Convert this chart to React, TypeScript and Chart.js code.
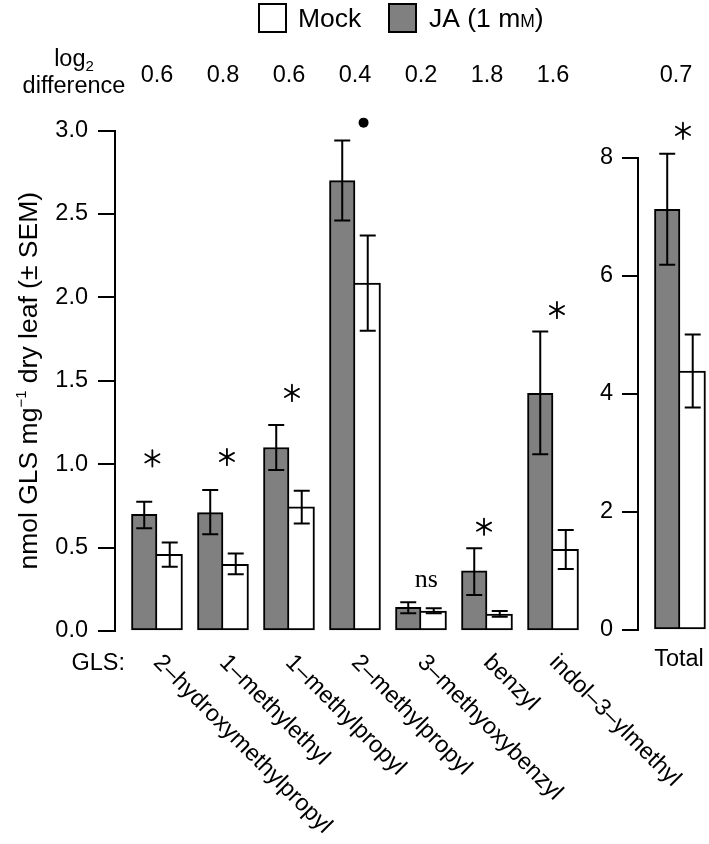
import React, { useEffect, useRef } from "react";
import { Chart, registerables } from "chart.js";

Chart.register(...registerables);

// ---------- data ----------
const categories = [
  "2–hydroxymethylpropyl",
  "1–methylethyl",
  "1–methylpropyl",
  "2–methylpropyl",
  "3–methyoxybenzyl",
  "benzyl",
  "indol–3–ylmethyl",
];
const jaMeans = [0.7, 0.71, 1.1, 2.7, 0.142, 0.36, 1.425];
const jaErrLow = [0.616, 0.58, 0.965, 2.46, 0.106, 0.216, 1.06];
const jaErrHigh = [0.775, 0.845, 1.235, 2.94, 0.172, 0.496, 1.795];
const mockMeans = [0.46, 0.4, 0.745, 2.085, 0.12, 0.102, 0.49];
const mockErrLow = [0.385, 0.34, 0.645, 1.8, 0.106, 0.086, 0.372];
const mockErrHigh = [0.53, 0.465, 0.84, 2.37, 0.136, 0.12, 0.605];
const log2Diff = ["0.6", "0.8", "0.6", "0.4", "0.2", "1.8", "1.6"];
const sigMarks = ["*", "*", "*", "•", "ns", "*", "*"];
const sigHeights = [1.035, 1.043, 1.427, 3.047, 0.3, 0.625, 1.924];
const sigShift = [-0.07, 0.06, 0.045, 0.13, 0.08, -0.045, 0.06]; // in category units
const mainTickStep = 0.5;
const mainMax = 3.0;

const totalCategory = ["Total"];
const totalJa = [7.13];
const totalJaLow = [6.19];
const totalJaHigh = [8.07];
const totalMock = [4.39];
const totalMockLow = [3.77];
const totalMockHigh = [5.01];
const totalLog2 = ["0.7"];
const totalSig = ["*"];
const totalSigHeight = [8.46];
const totalTickStep = 2;
const totalMax = 8;

const seriesNames = ["JA (1 mM)", "Mock"];

// ---------- styles ----------
const FONT = "'Liberation Sans', Arial, Helvetica, sans-serif";
const SERIF = "'Liberation Serif', 'Times New Roman', serif";
const FS = 23.5;
const FS_BIG = 26.5;
const JA_COLOR = "#808080";
const MOCK_COLOR = "#ffffff";
const BAR_T = 25.5;
const ROT = (45 * Math.PI) / 180;

function drawErrorBars(chart: any, lows: number[][], highs: number[][]) {
  const ctx = chart.ctx;
  const y = chart.scales.y;
  ctx.save();
  ctx.strokeStyle = "#000";
  ctx.lineWidth = 2;
  chart.data.datasets.forEach((_ds: any, di: number) => {
    const meta = chart.getDatasetMeta(di);
    meta.data.forEach((bar: any, i: number) => {
      const x = bar.x;
      const lo = y.getPixelForValue(lows[di][i]);
      const hi = y.getPixelForValue(highs[di][i]);
      ctx.beginPath();
      ctx.moveTo(x, lo);
      ctx.lineTo(x, hi);
      ctx.moveTo(x - 8, lo);
      ctx.lineTo(x + 8, lo);
      ctx.moveTo(x - 8, hi);
      ctx.lineTo(x + 8, hi);
      ctx.stroke();
    });
  });
  ctx.restore();
}

function drawCentered(ctx: any, text: string, font: string, cx: number, cy: number) {
  ctx.font = font;
  ctx.textAlign = "left";
  ctx.textBaseline = "alphabetic";
  const m = ctx.measureText(text);
  const x = cx - (m.actualBoundingBoxRight - m.actualBoundingBoxLeft) / 2;
  const yb = cy + (m.actualBoundingBoxAscent - m.actualBoundingBoxDescent) / 2;
  ctx.fillText(text, x, yb);
}

function drawAsterisk(ctx: any, cx: number, cy: number) {
  const r = 8.2;
  ctx.save();
  ctx.strokeStyle = "#000";
  ctx.lineWidth = 1.8;
  ctx.lineCap = "round";
  ctx.beginPath();
  for (let k = 0; k < 3; k++) {
    const a = (k * Math.PI) / 3;
    ctx.moveTo(cx - r * Math.sin(a), cy - r * Math.cos(a));
    ctx.lineTo(cx + r * Math.sin(a), cy + r * Math.cos(a));
  }
  ctx.stroke();
  ctx.restore();
}

function drawSig(ctx: any, mark: string, cx: number, cy: number) {
  ctx.fillStyle = "#000";
  if (mark === "*") drawAsterisk(ctx, cx, cy);
  else if (mark === "•") {
    ctx.beginPath();
    ctx.arc(cx, cy, 5, 0, Math.PI * 2);
    ctx.fill();
  } else drawCentered(ctx, mark, `26px ${SERIF}`, cx, cy);
}

function yAxisOptions(max: number, step: number, width: number, tickLen: number, pad: number, fmt: (v: number) => string) {
  return {
    type: "linear",
    min: 0,
    max,
    afterFit: (s: any) => {
      s.width = width;
    },
    ticks: {
      stepSize: step,
      padding: pad,
      color: "#000",
      font: { family: FONT, size: FS },
      callback: (v: any) => fmt(Number(v)),
    },
    grid: {
      display: true,
      drawOnChartArea: false,
      drawTicks: true,
      tickLength: tickLen,
      color: "#000",
      lineWidth: 2,
    },
    border: { display: true, color: "#000", width: 2 },
    title: { display: false },
  };
}

function xAxisOptions(min: number, max: number) {
  return {
    type: "linear",
    display: false,
    offset: false,
    bounds: "data",
    min,
    max,
    grid: { offset: false },
    ticks: { stepSize: 1, includeBounds: false },
  };
}

export default function App() {
  const mainRef = useRef<HTMLCanvasElement | null>(null);
  const totalRef = useRef<HTMLCanvasElement | null>(null);

  useEffect(() => {
    if (!mainRef.current || !totalRef.current) return;

    const mainPlugin = {
      id: "mainDecor",
      afterDraw(chart: any) {
        drawErrorBars(chart, [jaErrLow, mockErrLow], [jaErrHigh, mockErrHigh]);
        const ctx = chart.ctx;
        const xs = chart.scales.x;
        const ys = chart.scales.y;
        ctx.save();
        ctx.fillStyle = "#000";

        // legend (Mock first, then JA)
        const legendItems = [
          { box: 258, text: 298, color: MOCK_COLOR, name: seriesNames[1] },
          { box: 388, text: 429, color: JA_COLOR, name: seriesNames[0] },
        ];
        legendItems.forEach((it) => {
          ctx.fillStyle = it.color;
          ctx.fillRect(it.box + 1, 4, 27, 28);
          ctx.strokeStyle = "#000";
          ctx.lineWidth = 2;
          ctx.strokeRect(it.box + 1, 4, 27, 28);
          ctx.fillStyle = "#000";
          ctx.textAlign = "left";
          ctx.textBaseline = "alphabetic";
          if (it.name.endsWith("mM)")) {
            const head = it.name.slice(0, -2); // "JA (1 m"
            ctx.font = `${FS_BIG}px ${FONT}`;
            ctx.fillText(head, it.text, 27);
            let w = ctx.measureText(head).width;
            ctx.font = `17.5px ${FONT}`;
            ctx.fillText("M", it.text + w, 27);
            w += ctx.measureText("M").width;
            ctx.font = `${FS_BIG}px ${FONT}`;
            ctx.fillText(")", it.text + w, 27);
          } else {
            ctx.font = `${FS_BIG}px ${FONT}`;
            ctx.fillText(it.name, it.text, 27);
          }
        });

        // log2 difference label
        ctx.font = `${FS}px ${FONT}`;
        const wLog = ctx.measureText("log").width;
        ctx.font = `15px ${FONT}`;
        const w2 = ctx.measureText("2").width;
        const lx = 74 - (wLog + w2) / 2;
        ctx.font = `${FS}px ${FONT}`;
        ctx.textAlign = "left";
        ctx.fillText("log", lx, 66);
        ctx.font = `15px ${FONT}`;
        ctx.fillText("2", lx + wLog, 71);
        ctx.font = `${FS}px ${FONT}`;
        ctx.textAlign = "center";
        ctx.fillText("difference", 74, 93);
        log2Diff.forEach((t, i) => {
          ctx.fillText(t, xs.getPixelForValue(i), 82);
        });

        // y title
        ctx.save();
        ctx.translate(37, (ys.top + ys.bottom) / 2);
        ctx.rotate(-Math.PI / 2);
        const parts: [string, string, number][] = [
          ["nmol GLS mg", `${FS_BIG}px ${FONT}`, 0],
          ["−1", `15px ${FONT}`, -11],
          [" dry leaf (± SEM)", `${FS_BIG}px ${FONT}`, 0],
        ];
        let tw = 0;
        parts.forEach((p) => {
          ctx.font = p[1];
          tw += ctx.measureText(p[0]).width;
        });
        let px = -tw / 2;
        ctx.textAlign = "left";
        ctx.textBaseline = "alphabetic";
        parts.forEach((p) => {
          ctx.font = p[1];
          ctx.fillText(p[0], px, p[2]);
          px += ctx.measureText(p[0]).width;
        });
        ctx.restore();

        // significance marks
        sigMarks.forEach((m, i) => {
          drawSig(ctx, m, xs.getPixelForValue(i + sigShift[i]), ys.getPixelForValue(sigHeights[i]));
        });

        // x labels
        ctx.fillStyle = "#000";
        ctx.font = `${FS}px ${FONT}`;
        ctx.textAlign = "right";
        ctx.textBaseline = "alphabetic";
        ctx.fillText("GLS:", 125, 670);
        categories.forEach((c, i) => {
          ctx.save();
          ctx.translate(xs.getPixelForValue(i), 659);
          ctx.rotate(ROT);
          ctx.textAlign = "left";
          ctx.textBaseline = "middle";
          ctx.font = `${FS}px ${FONT}`;
          ctx.fillText(c, 0, 0);
          ctx.restore();
        });
        ctx.restore();
      },
    };

    const totalPlugin = {
      id: "totalDecor",
      afterDraw(chart: any) {
        drawErrorBars(chart, [totalJaLow, totalMockLow], [totalJaHigh, totalMockHigh]);
        const ctx = chart.ctx;
        const xs = chart.scales.x;
        const ys = chart.scales.y;
        ctx.save();
        ctx.fillStyle = "#000";
        ctx.font = `${FS}px ${FONT}`;
        ctx.textAlign = "center";
        ctx.textBaseline = "alphabetic";
        totalLog2.forEach((t, i) => ctx.fillText(t, xs.getPixelForValue(i) - 4, 82));
        totalCategory.forEach((t, i) => ctx.fillText(t, xs.getPixelForValue(i) - 1, 666));
        totalSig.forEach((m, i) => drawSig(ctx, m, xs.getPixelForValue(i) + 3, ys.getPixelForValue(totalSigHeight[i])));
        ctx.restore();
      },
    };

    const barBase = { borderColor: "#000", borderSkipped: false, barThickness: BAR_T };

    const mainChart = new Chart(mainRef.current, {
      type: "bar",
      data: {
        datasets: [
          {
            ...barBase,
            label: seriesNames[0],
            data: jaMeans.map((v, i) => ({ x: i, y: v })),
            backgroundColor: JA_COLOR,
            borderWidth: 2,
          },
          {
            ...barBase,
            label: seriesNames[1],
            data: mockMeans.map((v, i) => ({ x: i, y: v })),
            backgroundColor: MOCK_COLOR,
            borderWidth: { top: 2, right: 2, bottom: 2, left: 0 },
          },
        ],
      } as any,
      options: {
        responsive: false,
        animation: false,
        events: [],
        layout: { padding: { left: 0, top: 130.5, right: 123, bottom: 213 } },
        plugins: { legend: { display: false }, tooltip: { enabled: false } },
        scales: {
          x: xAxisOptions(-0.636, 6.5),
          y: yAxisOptions(mainMax, mainTickStep, 115, 17, 10, (v) => v.toFixed(1)),
        },
      } as any,
      plugins: [mainPlugin],
    });

    const totalChart = new Chart(totalRef.current, {
      type: "bar",
      data: {
        datasets: [
          {
            ...barBase,
            label: seriesNames[0],
            data: totalJa.map((v, i) => ({ x: i, y: v })),
            backgroundColor: JA_COLOR,
            borderWidth: 2,
          },
          {
            ...barBase,
            label: seriesNames[1],
            data: totalMock.map((v, i) => ({ x: i, y: v })),
            backgroundColor: MOCK_COLOR,
            borderWidth: { top: 2, right: 2, bottom: 2, left: 0 },
          },
        ],
      } as any,
      options: {
        responsive: false,
        animation: false,
        events: [],
        layout: { padding: { left: 0, top: 158, right: 0, bottom: 214 } },
        plugins: { legend: { display: false }, tooltip: { enabled: false } },
        scales: {
          x: xAxisOptions(-0.636, 0.44),
          y: yAxisOptions(totalMax, totalTickStep, 48, 16, 9, (v) => String(Math.round(v))),
        },
      } as any,
      plugins: [totalPlugin],
    });

    return () => {
      mainChart.destroy();
      totalChart.destroy();
    };
  }, []);

  return (
    <div
      style={{
        position: "fixed",
        left: 0,
        top: 0,
        width: 709,
        height: 844,
        background: "#fff",
        overflow: "hidden",
      }}
    >
      <canvas ref={mainRef} width={709} height={844} style={{ position: "absolute", left: 0, top: 0 }} />
      <canvas ref={totalRef} width={119} height={844} style={{ position: "absolute", left: 590, top: 0 }} />
    </div>
  );
}
